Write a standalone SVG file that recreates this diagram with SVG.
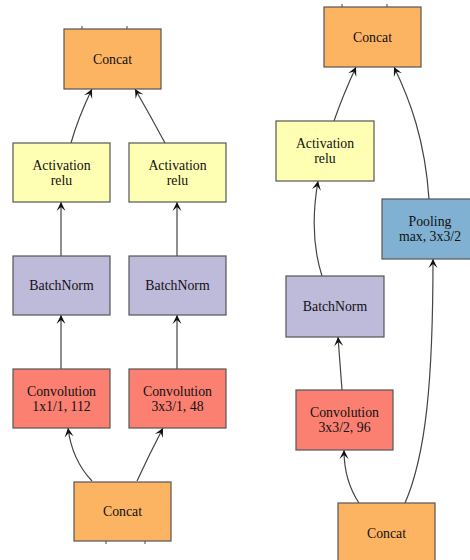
<svg xmlns="http://www.w3.org/2000/svg" width="470" height="560" viewBox="0 0 470 560">
<style>
.box{stroke:#555;stroke-width:1.2}
.concat{fill:#FDB462}
.act{fill:#FFFFB3}
.bn{fill:#BEBADA}
.conv{fill:#FB8072}
.pool{fill:#80B1D3}
.lbl{font-family:'Liberation Serif','Times New Roman',Times,serif;font-size:13.8px;fill:#111;text-anchor:middle}
.edge{fill:none;stroke:#444;stroke-width:1.2;marker-end:url(#vee)}
.stub{stroke:#444;stroke-width:1}
</style>
<defs>
<marker id="vee" viewBox="-10 -5 10 10" refX="0" refY="0" markerWidth="10" markerHeight="10" markerUnits="userSpaceOnUse" orient="auto">
<path d="M0,0 L-9,-4.5 L-5,0 L-9,4.5 Z" fill="#111"/>
</marker>
</defs>
<rect width="470" height="560" fill="#fff"/>
<g id="connectors">
<path class="edge" d="M71,143 Q78,118 92,89"/>
<path class="edge" d="M165,143 Q150,115 135,89"/>
<path class="edge" d="M61,256 L61,202"/>
<path class="edge" d="M177,256 L177,202"/>
<path class="edge" d="M61,369 L61,315"/>
<path class="edge" d="M177,369 L177,315"/>
<path class="edge" d="M92,481 Q72,460 68,428"/>
<path class="edge" d="M137,481 Q149,455 163,428"/>
<path class="edge" d="M334,121 Q343,95 356,67"/>
<path class="edge" d="M429,199 C425,140 410,100 394,67"/>
<path class="edge" d="M322,276 C312,245 313,210 318,181"/>
<path class="edge" d="M342,390 L338,337"/>
<path class="edge" d="M359,503 C349,488 344,470 344,450"/>
<path class="edge" d="M405,503 C426,455 433,380 433,259"/>
<line class="stub" x1="82" y1="26" x2="82" y2="29"/>
<line class="stub" x1="127" y1="26" x2="127" y2="29"/>
<line class="stub" x1="342" y1="4" x2="342" y2="7"/>
<line class="stub" x1="387" y1="4" x2="387" y2="7"/>
<line class="stub" x1="106" y1="541" x2="106" y2="544"/>
<line class="stub" x1="145" y1="541" x2="145" y2="544"/>
</g>
<g font-family="Liberation Serif, serif">
<g id="L_concat_top"><rect class="box concat" x="64" y="29" width="97" height="60"/><text class="lbl" x="112.5" y="64">Concat</text></g>
<g id="L_act1"><rect class="box act" x="13" y="143" width="97" height="59"/><text class="lbl" x="61.5" y="170">Activation</text><text class="lbl" x="61.5" y="185">relu</text></g>
<g id="L_act2"><rect class="box act" x="129" y="143" width="97" height="59"/><text class="lbl" x="177.5" y="170">Activation</text><text class="lbl" x="177.5" y="185">relu</text></g>
<g id="L_bn1"><rect class="box bn" x="13" y="256" width="97" height="59"/><text class="lbl" x="61.5" y="290">BatchNorm</text></g>
<g id="L_bn2"><rect class="box bn" x="129" y="256" width="97" height="59"/><text class="lbl" x="177.5" y="290">BatchNorm</text></g>
<g id="L_conv1"><rect class="box conv" x="13" y="369" width="97" height="59"/><text class="lbl" x="61.5" y="396">Convolution</text><text class="lbl" x="61.5" y="411">1x1/1, 112</text></g>
<g id="L_conv2"><rect class="box conv" x="129" y="369" width="97" height="59"/><text class="lbl" x="177.5" y="396">Convolution</text><text class="lbl" x="177.5" y="411">3x3/1, 48</text></g>
<g id="L_concat_bot"><rect class="box concat" x="74" y="482" width="97" height="59"/><text class="lbl" x="122.5" y="516">Concat</text></g>
<g id="R_concat_top"><rect class="box concat" x="324" y="7" width="97" height="60"/><text class="lbl" x="372.5" y="42">Concat</text></g>
<g id="R_act"><rect class="box act" x="276" y="121" width="98" height="60"/><text class="lbl" x="325" y="148">Activation</text><text class="lbl" x="325" y="163">relu</text></g>
<g id="R_pool"><rect class="box pool" x="382" y="199" width="97" height="60"/><text class="lbl" x="430" y="226">Pooling</text><text class="lbl" x="430" y="241">max, 3x3/2</text></g>
<g id="R_bn"><rect class="box bn" x="286" y="276" width="98" height="61"/><text class="lbl" x="335" y="311">BatchNorm</text></g>
<g id="R_conv"><rect class="box conv" x="296" y="390" width="97" height="60"/><text class="lbl" x="344.5" y="417">Convolution</text><text class="lbl" x="344.5" y="432">3x3/2, 96</text></g>
<g id="R_concat_bot"><rect class="box concat" x="338" y="503" width="97" height="60"/><text class="lbl" x="386.5" y="538">Concat</text></g>
</g>
</svg>
